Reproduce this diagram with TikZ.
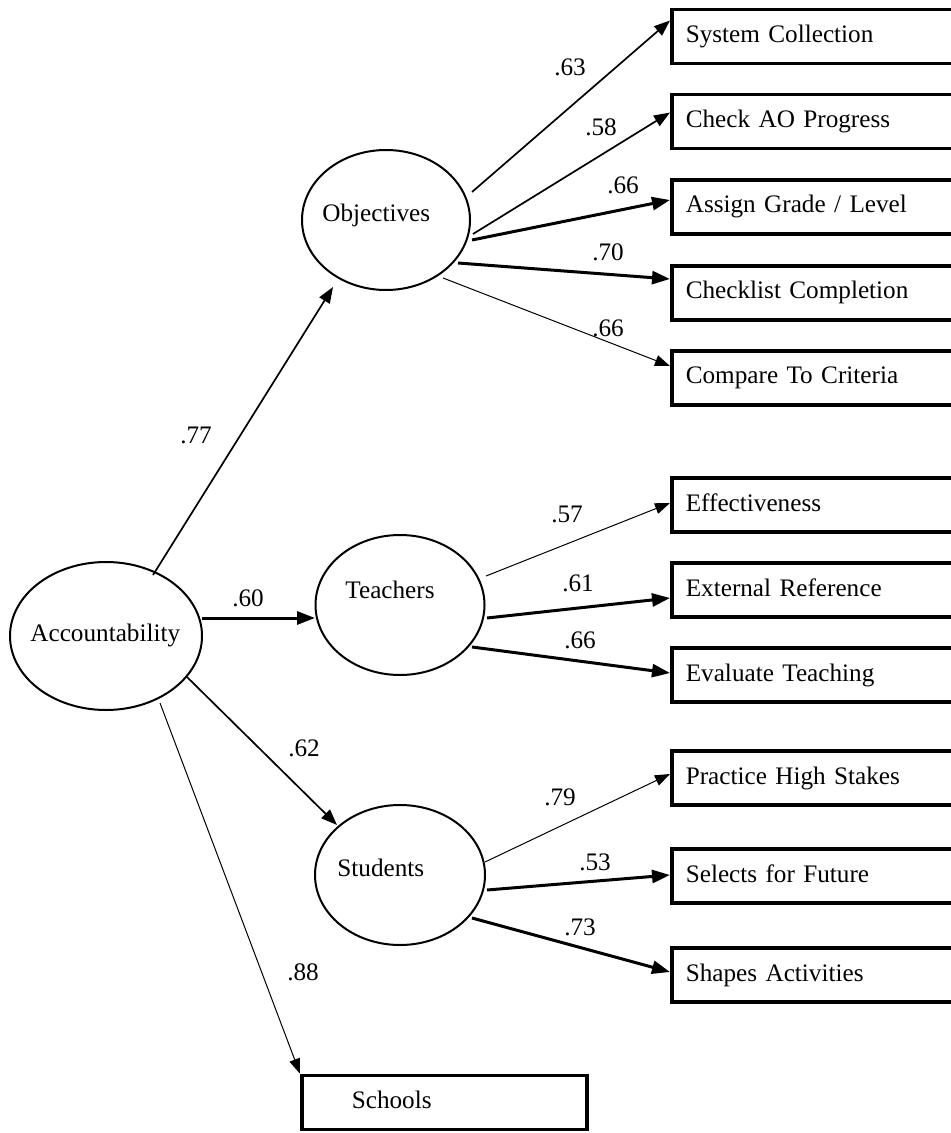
\documentclass[tikz,border=0pt]{standalone}
\usepackage{fontspec}
\setmainfont{Liberation Serif}
\usetikzlibrary{arrows.meta,shapes.geometric,calc}
\newcommand\diagfont{\fontsize{12.6}{15}\selectfont}

\tikzset{
  latent/.style={ellipse, draw, line width=1pt, inner sep=0pt},
  ltext/.style={anchor=base west, font=\diagfont, inner sep=0pt},
  obsbox/.style={rectangle, draw, line width=1.8pt, anchor=west,
    minimum height=27pt, text width=136pt, inner xsep=7pt, align=left,
    text height=8.5pt, text depth=2.5pt, font=\diagfont},
  coef/.style={font=\diagfont, inner sep=0pt},
  pthin/.style={line width=0.5pt, -{Triangle[length=7.5pt,width=5.5pt]}},
  pmed/.style={line width=0.85pt, -{Triangle[length=8pt,width=6pt]}},
  pthick/.style={line width=1.5pt, -{Triangle[length=9pt,width=6.5pt]}},
}

\begin{document}
\begin{tikzpicture}[x=0.5pt, y=-0.5pt]
\useasboundingbox (0,0) rectangle (951,1133);
\clip (0,0) rectangle (951,1133);

% latent factors
\node[latent, minimum width=96pt, minimum height=74pt] (acc) at (106,636) {};
\node[ltext] (acct) at (30,641) {Accountability};
\node[latent, minimum width=84pt, minimum height=70pt] (obj) at (386,220) {};
\node[ltext] (objt) at (322,222) {Objectives};
\node[latent, minimum width=84.5pt, minimum height=70pt] (tea) at (400,605) {};
\node[ltext] (teat) at (345,598) {Teachers};
\node[latent, minimum width=85pt, minimum height=70pt] (stu) at (400,875) {};
\node[ltext] (stut) at (337,876) {Students};

% observed indicators
\node[obsbox] (sc) at (670,36.5) {System Collection};
\node[obsbox] (ca) at (670,121.5) {Check AO Progress};
\node[obsbox] (ag) at (670,207) {Assign Grade / Level};
\node[obsbox] (cc) at (670,293) {Checklist Completion};
\node[obsbox] (ct) at (670,378) {Compare To Criteria};
\node[obsbox] (ef) at (670,505) {Effectiveness};
\node[obsbox] (er) at (670,590) {External Reference};
\node[obsbox] (et) at (670,675) {Evaluate Teaching};
\node[obsbox] (ph) at (670,778) {Practice High Stakes};
\node[obsbox] (sf) at (670,876) {Selects for Future};
\node[obsbox] (sa) at (670,975) {Shapes Activities};
\node[obsbox, text width=92.5pt, inner xsep=25pt] (sch) at (300,1102.5) {Schools};

% second-order paths
\draw[pmed]   ($(acc)+(47,-61)$) -- ($(obj)+(-53,67)$);
\draw[pthick] ($(acc)+(96,-18)$) -- ($(tea)+(-85,13)$);
\draw[pmed]   ($(acc)+(81,41)$)  -- ($(stu)+(-63,-50)$);
\draw[pthin]  ($(acc)+(54,67)$)  -- (sch.north west);

% objectives loadings
\draw[pmed]   ($(obj)+(86,-28)$) -- ($(sc.west)+(0,-16)$);
\draw[pmed]   ($(obj)+(87,14)$)  -- ($(ca.west)+(0,-9)$);
\draw[pthick] ($(obj)+(86,20)$)  -- ($(ag.west)+(0,-7)$);
\draw[pthick] ($(obj)+(72,43)$)  -- ($(cc.west)+(0,-14)$);
\draw[pthin]  ($(obj)+(57,58)$)  -- ($(ct.west)+(0,-12)$);

% teachers loadings
\draw[pthin]  ($(tea)+(86,-29)$) -- ($(ef.west)+(0,-2)$);
\draw[pthick] ($(tea)+(87,13)$)  -- ($(er.west)+(0,8)$);
\draw[pthick] ($(tea)+(72,42)$)  -- ($(et.west)+(0,-2)$);

% students loadings
\draw[pthin]  ($(stu)+(85,-13)$) -- ($(ph.west)+(0,-4)$);
\draw[pthick] ($(stu)+(87,15)$)  -- ($(sf.west)+(0,-1)$);
\draw[pthick] ($(stu)+(72,43)$)  -- ($(sa.west)+(0,-3)$);

% coefficients
\node[coef] (c77) at (196,435) {.77};
\node[coef] (c60) at (248,598) {.60};
\node[coef] (c62) at (304,748) {.62};
\node[coef] (c88) at (303,972) {.88};
\node[coef] (c63) at (570,67) {.63};
\node[coef] (c58) at (601,127) {.58};
\node[coef] (c66a) at (623,185) {.66};
\node[coef] (c70) at (608,252) {.70};
\node[coef] (c66b) at (608,328) {.66};
\node[coef] (c57) at (567,514) {.57};
\node[coef] (c61) at (578,583) {.61};
\node[coef] (c66c) at (580,640) {.66};
\node[coef] (c79) at (560,797) {.79};
\node[coef] (c53) at (595,862) {.53};
\node[coef] (c73) at (580,927) {.73};
\end{tikzpicture}
\end{document}
